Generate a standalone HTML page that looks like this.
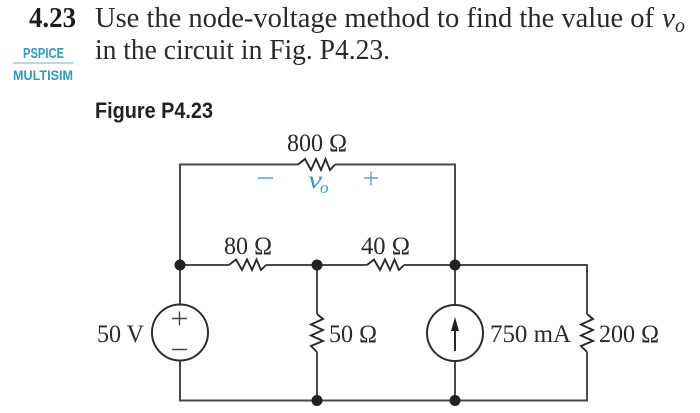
<!DOCTYPE html>
<html>
<head>
<meta charset="utf-8">
<style>
html,body{margin:0;padding:0;background:#fff;width:700px;height:413px;overflow:hidden}
svg{display:block}
.s{font-family:"Liberation Serif",serif;fill:#2a2a2a}
.h{font-family:"Liberation Sans",sans-serif;font-weight:bold}
.w{fill:none;stroke:#4a4a4a;stroke-width:2}
.r{fill:none;stroke:#2a2a2a;stroke-width:1.9;stroke-linejoin:miter}
</style>
</head>
<body>
<svg width="700" height="413" viewBox="0 0 700 413" xmlns="http://www.w3.org/2000/svg">
<defs><filter id="b" x="0" y="0" width="100%" height="100%"><feGaussianBlur stdDeviation="0.35"/></filter></defs>
<g filter="url(#b)">
<rect width="700" height="413" fill="#fff"/>
<text x="29" y="27" class="s" font-size="29" font-weight="bold" style="fill:#1f1f1f" textLength="47" lengthAdjust="spacingAndGlyphs">4.23</text>
<text x="95" y="27" class="s" font-size="29" textLength="559" lengthAdjust="spacingAndGlyphs">Use the node-voltage method to find the value of</text>
<text x="662" y="27" class="s" font-size="29" font-style="italic" textLength="13" lengthAdjust="spacingAndGlyphs">v</text>
<text x="675" y="32" class="s" font-size="20" font-style="italic">o</text>
<text x="95" y="59" class="s" font-size="29" textLength="295" lengthAdjust="spacingAndGlyphs">in the circuit in Fig. P4.23.</text>
<text x="23" y="58" class="h" font-size="15" fill="#2f9cc4" textLength="41" lengthAdjust="spacingAndGlyphs">PSPICE</text>
<line x1="13" y1="63" x2="74" y2="63" stroke="#6fb6d2" stroke-width="1"/>
<text x="13" y="80" class="h" font-size="14" fill="#2f9cc4" textLength="60" lengthAdjust="spacingAndGlyphs">MULTISIM</text>
<text x="95" y="118" class="h" font-size="22" fill="#222" textLength="118" lengthAdjust="spacingAndGlyphs">Figure P4.23</text>

<path class="w" d="M180 304V164.5H298M335 164.5H455V372M180 360V400.5H587V352M587 314V265H404M367 265H266M229 265H180M317 265V314M317 352V400.5M455 361V400.5"/>

<path class="r" d="M298 164.5L305 159L311 170L316 159L321 170L325.5 159L330 170L335 164.5"/>
<path class="r" d="M229 265L236 259.5L242 270L247 259.5L252 270L256.5 259.5L261 270L266 265"/>
<path class="r" d="M367 265L374 259.5L380 270L385 259.5L390 270L394.5 259.5L399 270L404 265"/>
<path class="r" d="M317 314L323 319L311 324.500L323 330L311 335.500L323 341L311 346L317 352"/>
<path class="r" d="M587 314L593 319L581 324.500L593 330L581 335.500L593 341L581 346L587 352"/>

<circle cx="180" cy="332.500" r="28" fill="#fff" stroke="#2e2e2e" stroke-width="2"/>
<circle cx="455" cy="333" r="28" fill="#fff" stroke="#2e2e2e" stroke-width="2"/>
<path d="M172 318.500H187M179.500 311.500V325.500M172 349.500H187" stroke="#444" stroke-width="1.4" fill="none"/>
<path d="M455 351V325" stroke="#2a2a2a" stroke-width="2" fill="none"/>
<path d="M455 317L459 331H451Z" fill="#222"/>

<g fill="#222">
<circle cx="180" cy="265" r="5.500"/>
<circle cx="317" cy="265" r="5.500"/>
<circle cx="455" cy="265" r="5.500"/>
<circle cx="317" cy="400.500" r="5.500"/>
<circle cx="455" cy="400.500" r="5.500"/>
</g>

<text x="287" y="151" class="s" font-size="25" textLength="60" lengthAdjust="spacingAndGlyphs">800 Ω</text>
<text x="224" y="254" class="s" font-size="25" textLength="48" lengthAdjust="spacingAndGlyphs">80 Ω</text>
<text x="361" y="254" class="s" font-size="25" textLength="49" lengthAdjust="spacingAndGlyphs">40 Ω</text>
<text x="97" y="342" class="s" font-size="25" textLength="47" lengthAdjust="spacingAndGlyphs">50 V</text>
<text x="329" y="342" class="s" font-size="25" textLength="48" lengthAdjust="spacingAndGlyphs">50 Ω</text>
<text x="490" y="342" class="s" font-size="25" textLength="81" lengthAdjust="spacingAndGlyphs">750 mA</text>
<text x="599" y="342" class="s" font-size="25" textLength="60" lengthAdjust="spacingAndGlyphs">200 Ω</text>

<path d="M258 178H273M364 178H378M371 171.500V185.500" stroke="#5aa9c9" stroke-width="1.4" fill="none"/>
<text x="308" y="188" font-family="Liberation Serif,serif" font-size="25" font-style="italic" fill="#3b9cc2" textLength="14" lengthAdjust="spacingAndGlyphs">v</text>
<text x="320" y="193" font-family="Liberation Serif,serif" font-size="17" font-style="italic" fill="#3b9cc2">o</text>
</g>
</svg>
</body>
</html>
